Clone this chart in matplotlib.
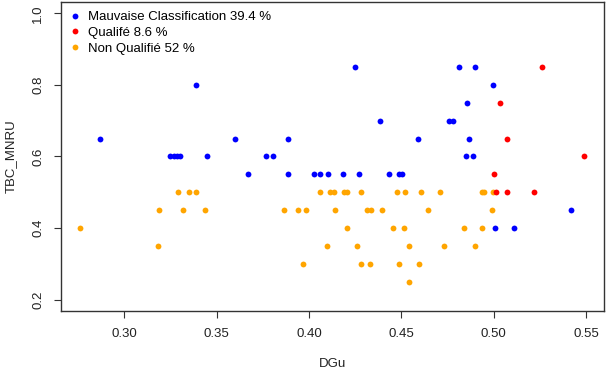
import matplotlib
matplotlib.use("Agg")
import matplotlib.pyplot as plt
from matplotlib.lines import Line2D

plt.rcParams['font.family'] = ['Liberation Sans', 'DejaVu Sans']

# Mauvaise Classification (blue)
mc_x = [0.3387, 0.2870, 0.3598, 0.3247, 0.3268, 0.3285, 0.3301, 0.3446, 0.3668,
        0.4251, 0.4383, 0.3885, 0.4590, 0.3767, 0.3804,
        0.3885, 0.4026, 0.4060, 0.4105, 0.4183, 0.4273, 0.4435, 0.4487, 0.4504,
        0.4811, 0.4901, 0.4998, 0.4856, 0.4758, 0.4781, 0.4869, 0.4849, 0.4887,
        0.5419, 0.5007, 0.5110]
mc_y = [0.80, 0.65, 0.65, 0.60, 0.60, 0.60, 0.60, 0.60, 0.55,
        0.85, 0.70, 0.65, 0.65, 0.60, 0.60,
        0.55, 0.55, 0.55, 0.55, 0.55, 0.55, 0.55, 0.55, 0.55,
        0.85, 0.85, 0.80, 0.75, 0.70, 0.70, 0.65, 0.60, 0.60,
        0.45, 0.40, 0.40]

# Qualifé (red)
q_x = [0.5263, 0.5033, 0.5072, 0.5491, 0.5003, 0.5010, 0.5072, 0.5220]
q_y = [0.85, 0.75, 0.65, 0.60, 0.55, 0.50, 0.50, 0.50]

# Non Qualifié (orange)
nq_x = [0.3289, 0.3352, 0.3387, 0.3188, 0.3318, 0.3435, 0.2762, 0.3182,
        0.4058, 0.4114, 0.4137, 0.4192, 0.4205, 0.4280, 0.4477, 0.4518, 0.4608,
        0.4708, 0.4937, 0.4949, 0.4995,
        0.3863, 0.3939, 0.3984, 0.4141, 0.4316, 0.4334, 0.4395, 0.4643, 0.4991,
        0.4206, 0.4455, 0.4515, 0.4841, 0.4937,
        0.4098, 0.4258, 0.4542, 0.4731, 0.4901,
        0.3966, 0.4282, 0.4330, 0.4487, 0.4597,
        0.4543]
nq_y = [0.50, 0.50, 0.50, 0.45, 0.45, 0.45, 0.40, 0.35,
        0.50, 0.50, 0.50, 0.50, 0.50, 0.50, 0.50, 0.50, 0.50,
        0.50, 0.50, 0.50, 0.50,
        0.45, 0.45, 0.45, 0.45, 0.45, 0.45, 0.45, 0.45, 0.45,
        0.40, 0.40, 0.40, 0.40, 0.40,
        0.35, 0.35, 0.35, 0.35, 0.35,
        0.30, 0.30, 0.30, 0.30, 0.30,
        0.25]

labels = ["Mauvaise Classification 39.4 %", "Qualifé 8.6 %", "Non Qualifié 52 %"]
colors = ["#0000FF", "#FF0000", "#FFA500"]

x_ticks = [0.30, 0.35, 0.40, 0.45, 0.50, 0.55]
y_ticks = [0.2, 0.4, 0.6, 0.8, 1.0]

fs = 9.5

fig = plt.figure(figsize=(6.06, 3.70), dpi=100)
ax = fig.add_axes([61/606, 1-311/370, (604.3-61)/606, (311-2)/370])

ms = 4.2
ax.plot(mc_x, mc_y, 'o', color=colors[0], ms=ms, mew=0, ls='none')
ax.plot(nq_x, nq_y, 'o', color=colors[2], ms=ms, mew=0, ls='none')
ax.plot(q_x, q_y, 'o', color=colors[1], ms=ms, mew=0, ls='none')

ax.set_xlim(0.2657, 0.5599)
ax.set_ylim(0.168, 1.032)
ax.set_xticks(x_ticks)
ax.set_xticklabels([f"{v:.2f}" for v in x_ticks])
ax.set_yticks(y_ticks)
ax.set_yticklabels([f"{v:.1f}" for v in y_ticks], rotation=90, va='center')

for s in ax.spines.values():
    s.set_color('#333333')
    s.set_linewidth(1.0)
ax.tick_params(axis='both', direction='out', length=5, width=0.8, color='#333333',
               labelcolor='#222222', labelsize=fs, pad=7)

ax.set_xlabel("DGu", fontsize=fs, color='#222222', labelpad=13)
ax.set_ylabel("TBC_MNRU", fontsize=fs, color='#222222', labelpad=11)

handles = [Line2D([], [], marker='o', ls='none', color=c, ms=ms, mew=0) for c in colors]
ax.legend(handles, labels, loc='upper left', frameon=False, fontsize=fs,
          handletextpad=0.64, labelspacing=0.25, borderaxespad=0.5, handlelength=0.7,
          borderpad=0.2)

fig.savefig("out.png", dpi=100)
